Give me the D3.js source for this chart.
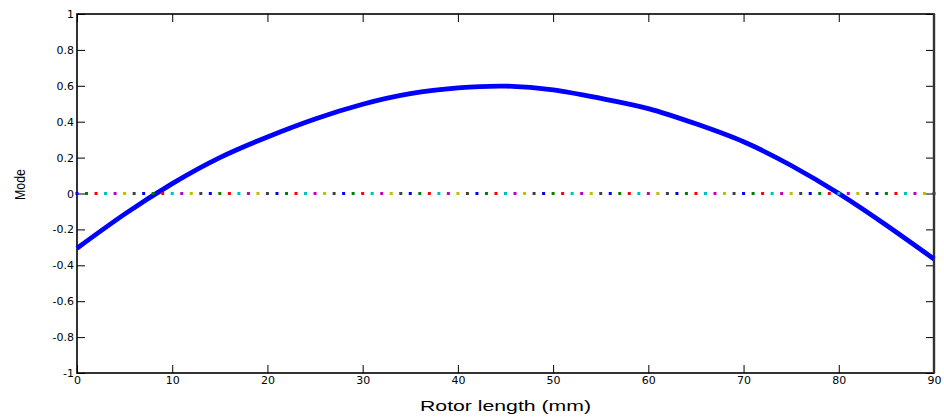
<!DOCTYPE html>
<html>
<head>
<meta charset="utf-8">
<script src="https://cdn.jsdelivr.net/npm/d3@7/dist/d3.min.js"></script>
<style>
  html, body { margin: 0; padding: 0; background: #fff; }
  svg { display: block; font-family: "Liberation Sans", Arial, Helvetica, sans-serif; }
</style>
</head>
<body>
<svg id="chart" width="944" height="419"></svg>
<script>
// ---- data ----
const positions = [0, 5, 10, 15, 20, 25, 30, 35, 40, 45, 50, 55, 60, 65, 70, 75, 80, 85, 90];
const modeValues = [-0.305, -0.115, 0.055, 0.20, 0.315, 0.415, 0.497, 0.556, 0.588, 0.598,
                    0.577, 0.53, 0.473, 0.388, 0.288, 0.156, 0.0, -0.177, -0.365];
const zeroLinePositions = d3.range(0, 91, 1);
const zeroLineValue = 0;
const markerColors = ["#0000ff", "#008000", "#ff0000", "#00bfbf", "#bf00bf", "#bfbf00", "#404040"];
const xTicks = [0, 10, 20, 30, 40, 50, 60, 70, 80, 90];
const yTicks = [-1, -0.8, -0.6, -0.4, -0.2, 0, 0.2, 0.4, 0.6, 0.8, 1];
const xLabel = "Rotor length (mm)";
const yLabel = "Mode";

// ---- layout ----
(function () {
const W = 944, H = 419;
const margin = { left: 77, right: 10, top: 14, bottom: 46 };
const svg = d3.select("#chart");
const x = d3.scaleLinear().domain([0, 90]).range([margin.left, W - margin.right]);
const y = d3.scaleLinear().domain([-1, 1]).range([H - margin.bottom, margin.top]);

const fmt = d => String(d);
const tickFont = 11;
const gBottom = svg.append("g").attr("transform", `translate(0,${y(-1)})`)
  .call(d3.axisBottom(x).tickValues(xTicks).tickSize(-8).tickPadding(3).tickFormat(fmt));
const gLeft = svg.append("g").attr("transform", `translate(${x(0)},0)`)
  .call(d3.axisLeft(y).tickValues(yTicks).tickSize(-8).tickPadding(3).tickFormat(fmt));
const gTop = svg.append("g").attr("transform", `translate(0,${y(1)})`)
  .call(d3.axisTop(x).tickValues(xTicks).tickSize(-8).tickFormat(""));
const gRight = svg.append("g").attr("transform", `translate(${x(90)},0)`)
  .call(d3.axisRight(y).tickValues(yTicks).tickSize(-8).tickFormat(""));
[gBottom, gLeft, gTop, gRight].forEach(g => {
  g.select(".domain").remove();
  g.selectAll(".tick line").attr("stroke", "#000").attr("stroke-width", 1);
  g.selectAll("text").attr("font-size", tickFont).attr("fill", "#000")
    .attr("font-family", "DejaVu Sans, sans-serif");
});

// box
svg.append("rect")
  .attr("x", x(0)).attr("y", y(1))
  .attr("width", x(90) - x(0)).attr("height", y(-1) - y(1))
  .attr("fill", "none").attr("stroke", "#000").attr("stroke-width", 1.6);
svg.append("line")
  .attr("x1", x(90)).attr("x2", x(90)).attr("y1", y(1)).attr("y2", y(-1))
  .attr("stroke", "#333").attr("stroke-width", 2.4);

// mode curve
const line = d3.line().x((d, i) => x(positions[i])).y(d => y(d)).curve(d3.curveNatural);
svg.append("path").datum(modeValues)
  .attr("d", line)
  .attr("fill", "none").attr("stroke", "#0000ff").attr("stroke-width", 4.8)
  .attr("stroke-linejoin", "round");

// zero line dots
svg.append("g").selectAll("rect").data(zeroLinePositions).join("rect")
  .attr("x", d => x(d) - 1.5).attr("y", y(zeroLineValue) - 1.5)
  .attr("width", 3).attr("height", 3)
  .attr("fill", (d, i) => markerColors[i % markerColors.length]);

// labels
svg.append("text").attr("x", (x(0) + x(90)) / 2).attr("y", 411)
  .attr("text-anchor", "middle").attr("font-size", 14).attr("fill", "#000")
  .attr("textLength", 171).attr("lengthAdjust", "spacingAndGlyphs")
  .text(xLabel);
svg.append("text").attr("transform", `translate(25,${y(0) - 9}) rotate(-90)`)
  .attr("text-anchor", "middle").attr("font-size", 14).attr("fill", "#000")
  .attr("textLength", 31).attr("lengthAdjust", "spacingAndGlyphs")
  .text(yLabel);
})();
</script>
</body>
</html>
